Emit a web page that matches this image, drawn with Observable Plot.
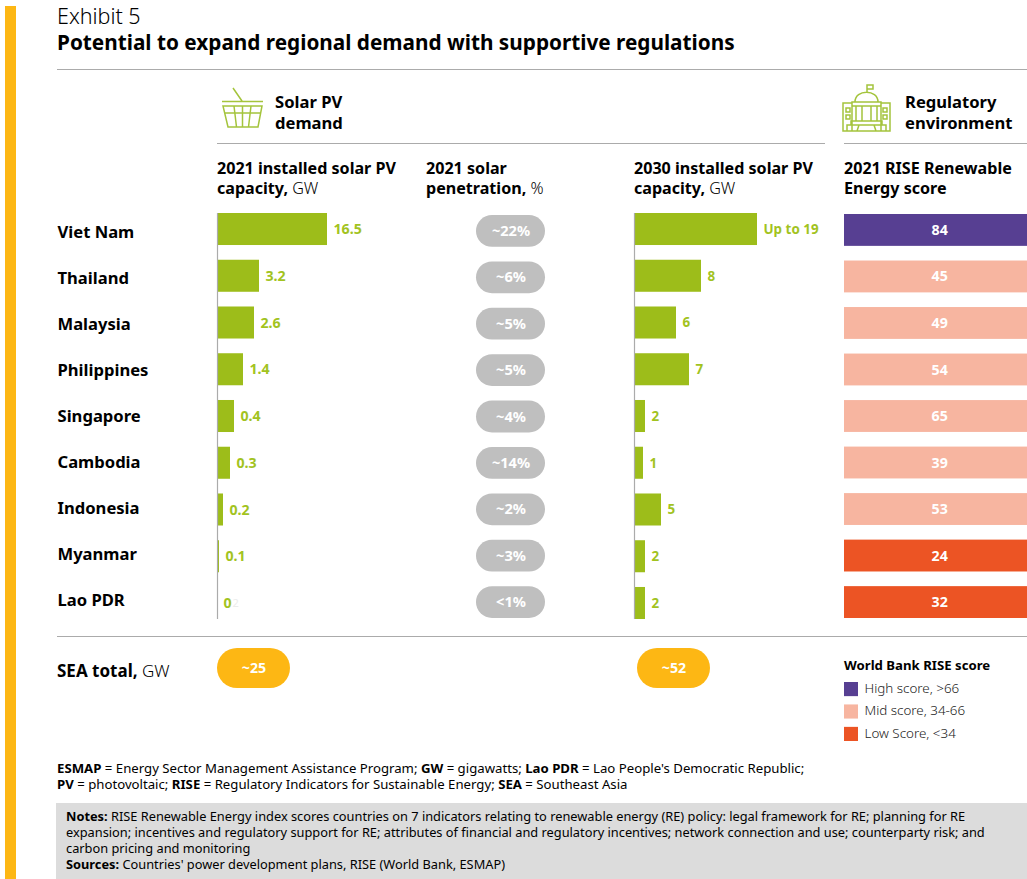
<!DOCTYPE html>
<html><head><meta charset="utf-8">
<script src="https://cdn.jsdelivr.net/npm/d3@7"></script>
<script src="https://cdn.jsdelivr.net/npm/@observablehq/plot@0.6"></script>
<style>
html,body{margin:0;padding:0;background:#fff;}
body{width:1027px;height:879px;position:relative;overflow:hidden;font-family:"Noto Sans",sans-serif;color:#000;}
.t{position:absolute;white-space:nowrap;}
.r{position:absolute;background:#ababab;height:1px;}
.p{position:absolute;left:0;top:0;}
.p svg{overflow:visible;background:transparent;display:block;}
b{font-weight:700}
.hd{font-size:16.1px;line-height:20px;font-weight:700;}
.hd span{font-weight:300}
.cat{font-size:16.6px;line-height:21px;font-weight:700;}
.fn{font-size:13.2px;line-height:16px;}
.fn2{font-size:12.8px;line-height:16px;}
#notes{position:absolute;left:56px;top:803px;width:971px;height:76px;background:#dcdcdc;}
</style></head>
<body>
<div class="t" style="left:5px;top:6px;width:11px;height:873px;background:#fdb714"></div>
<div class="t" style="left:57px;top:5px;font-size:21.5px;line-height:22px;font-weight:300;">Exhibit 5</div>
<div class="t" style="left:57px;top:29px;font-size:20.75px;line-height:26px;font-weight:700;">Potential to expand regional demand with supportive regulations</div>
<div class="r" style="left:57px;top:69px;width:970px"></div>
<div class="r" style="left:217px;top:143px;width:608px"></div>
<div class="r" style="left:844px;top:143px;width:183px"></div>
<div class="r" style="left:57px;top:636px;width:970px"></div>

<svg class="t" style="left:220px;top:86px" width="46" height="44" fill="none" stroke="#a4c43c" stroke-width="1.5">
  <path d="M13 2L22 15M2 15.5H43M3 20H42L38 41H8ZM5 27H40M14 20L16.5 41M22.5 20V41M31 20L28.5 41"/>
</svg>
<svg class="t" style="left:842px;top:83px" width="50" height="50" fill="none" stroke="#a4c43c" stroke-width="1.5">
  <path d="M25 9V2H31V6H25M13 19C13 6 36 6 36 19M10 19H39V23H10ZM1 20H10V48H1ZM39 20H48V48H39ZM14 23V38M20 23V38M29 23V38M35 23V38M9 38H40V42H9ZM5 48V42H44V48M15 48L17 42M34 48L32 42M4 25H8V29H4ZM4 32H8V36H4ZM41 25H45V29H41ZM41 32H45V36H41ZM1 48H48"/>
</svg>

<div class="t cat" style="left:275px;top:91px">Solar PV<br>demand</div>
<div class="t cat" style="left:905px;top:91px">Regulatory<br>environment</div>
<div class="t hd" style="left:217px;top:158px">2021 installed solar PV<br>capacity, <span>GW</span></div>
<div class="t hd" style="left:426px;top:158px">2021 solar<br>penetration, <span>%</span></div>
<div class="t hd" style="left:634px;top:158px">2030 installed solar PV<br>capacity, <span>GW</span></div>
<div class="t hd" style="left:844px;top:158px">2021 RISE Renewable<br>Energy score</div>
<div class="t" style="left:57px;top:659px;font-size:17px;line-height:24px;font-weight:700;">SEA total, <span style="font-weight:300">GW</span></div>
<div class="t" style="left:844px;top:656px;font-size:13.2px;line-height:18px;font-weight:700;">World Bank RISE score</div>

<div class="t fn" style="left:57px;top:760px"><b>ESMAP</b> = Energy Sector Management Assistance Program; <b>GW</b> = gigawatts; <b>Lao PDR</b> = Lao People's Democratic Republic;<br><b>PV</b> = photovoltaic; <b>RISE</b> = Regulatory Indicators for Sustainable Energy; <b>SEA</b> = Southeast Asia</div>
<div id="notes"></div>
<div class="t fn2" style="left:66px;top:808px"><b>Notes:</b> RISE Renewable Energy index scores countries on 7 indicators relating to renewable energy (RE) policy: legal framework for RE; planning for RE<br>expansion; incentives and regulatory support for RE; attributes of financial and regulatory incentives; network connection and use; counterparty risk; and<br>carbon pricing and monitoring<br><b>Sources:</b> Countries' power development plans, RISE (World Bank, ESMAP)</div>

<script>
const countries = ["Viet Nam","Thailand","Malaysia","Philippines","Singapore","Cambodia","Indonesia","Myanmar","Lao PDR"];
const installed2021 = [16.5,3.2,2.6,1.4,0.4,0.3,0.2,0.1,0];
const installed2021Labels = ["16.5","3.2","2.6","1.4","0.4","0.3","0.2","0.1","0"];
const penetrationLabels = ["~22%","~6%","~5%","~5%","~4%","~14%","~2%","~3%","<1%"];
const capacity2030 = [19,8,6,7,2,1,5,2,2];
const capacity2030Labels = ["Up to 19","8","6","7","2","1","5","2","2"];
const riseScores = [84,45,49,54,65,39,53,24,32];
const seaTotals = ["~25","~52"];
const riseBands = ["High score, >66","Mid score, 34-66","Low Score, <34"];
const riseColors = ["#573f92","#f7b5a0","#ec5424"];

const FONT = '"Noto Sans",sans-serif';
const GREEN = "#9dbd1a", LABEL = "#a2c31f", GOLD = "#fdb714", PILL = "#bfbfbf";
const band = s => s > 66 ? riseBands[0] : s >= 34 ? riseBands[1] : riseBands[2];

function place(plot, left, top) {
  const w = document.createElement("div");
  w.className = "p";
  w.style.left = left + "px";
  w.style.top = top + "px";
  w.appendChild(plot);
  document.body.appendChild(w);
}
const base = (width, height) => ({width, height, margin:0, style:{fontFamily:FONT, background:"transparent", overflow:"visible"}});
const rows = (a, b) => ({domain:countries, range:[a,b], paddingInner:0.315, paddingOuter:0, round:false, axis:null});
// The source draws its bars on a non-proportional length scale: these are the drawn lengths.
const drawn2021 = d3.scaleLinear().domain([0,0.1,0.2,0.3,0.4,1.4,2.6,3.2,16.5]).range([0,2,6,13,17,26,37,42,110]);
const drawn2030 = d3.scaleLinear().domain([0,1,2,5,6,7,8,19]).range([0,9,11,27,42,55,67,123]);

// Country names
place(Plot.plot({...base(155,420),
  y:{type:"point", domain:countries, range:[12,380], padding:0, round:false, axis:null},
  marks:[Plot.text(countries,{y:d=>d, text:d=>d, frameAnchor:"left", fontSize:16.6, fontWeight:700, fill:"#000"})]
}),57,220);

// 2021 installed capacity
const t2021 = countries.map((c,i)=>({c, v:drawn2021(installed2021[i]), l:installed2021Labels[i]}));
place(Plot.plot({...base(200,430),
  x:{domain:[0,200], range:[0,200], axis:null},
  y:rows(13,419),
  marks:[
    Plot.barX(t2021,{x:"v", y:"c", fill:GREEN}),
    Plot.ruleX([0],{stroke:"#ababab", strokeWidth:1.2, insetTop:13, insetBottom:11}),
    Plot.text(t2021,{x:"v", y:"c", text:"l", dx:6, textAnchor:"start", fill:LABEL, fontSize:14.2, fontWeight:700}),
    Plot.text(["2"],{x:()=>0, y:()=>"Lao PDR", text:d=>d, dx:15, textAnchor:"start", fill:"#ececec", fontSize:11})
  ]
}),217,200);

// 2021 penetration pills
place(Plot.plot({...base(69,430),
  x:{domain:[0,1], range:[0,69], axis:null},
  y:rows(15,418),
  marks:[
    Plot.rect(countries,{x1:()=>0, x2:()=>1, y:d=>d, rx:16, fill:PILL}),
    Plot.text(countries,{x:()=>0.5, y:d=>d, text:(d,i)=>penetrationLabels[i], fill:"#fff", fontSize:14.6, fontWeight:700})
  ]
}),476,200);

// 2030 capacity
const t2030 = countries.map((c,i)=>({c, v:drawn2030(capacity2030[i]), l:capacity2030Labels[i]}));
place(Plot.plot({...base(190,430),
  x:{domain:[0,190], range:[0,190], axis:null},
  y:rows(13,419),
  marks:[
    Plot.barX(t2030,{x:"v", y:"c", fill:GREEN}),
    Plot.ruleX([0],{stroke:"#ababab", strokeWidth:1.2, insetTop:13, insetBottom:11}),
    Plot.text(t2030,{x:"v", y:"c", text:"l", dx:6, textAnchor:"start", fill:LABEL, fontSize:13.4, fontWeight:700})
  ]
}),634,200);

// RISE score
const tRise = countries.map((c,i)=>({c, s:riseScores[i], b:band(riseScores[i])}));
place(Plot.plot({...base(183,430),
  x:{domain:[0,1], range:[0,183], axis:null},
  y:rows(14,418),
  color:{domain:riseBands, range:riseColors},
  marks:[
    Plot.rect(tRise,{x1:()=>0, x2:()=>1, y:"c", fill:"b"}),
    Plot.text(tRise,{x:()=>0.52, y:"c", text:"s", fill:"#fff", fontSize:14.2, fontWeight:700})
  ]
}),844,200);

// SEA total pills
seaTotals.forEach((v,i)=>{
  place(Plot.plot({...base(73,40),
    x:{domain:[0,1], range:[0,73], axis:null},
    y:{domain:[0,1], range:[40,0], axis:null},
    marks:[
      Plot.rect([v],{x1:()=>0, x2:()=>1, y1:()=>0, y2:()=>1, rx:20, fill:GOLD}),
      Plot.text([v],{x:()=>0.5, y:()=>0.5, text:d=>d, fill:"#fff", fontSize:14.2, fontWeight:700})
    ]
  }), [217,637][i], 648);
});

// Legend
place(Plot.plot({...base(183,70),
  x:{domain:[0,1], range:[0,14], axis:null},
  y:{domain:riseBands, range:[0,59], paddingInner:0.37, paddingOuter:0, round:false, axis:null},
  color:{domain:riseBands, range:riseColors},
  marks:[
    Plot.rect(riseBands,{x1:()=>0, x2:()=>1, y:d=>d, fill:d=>d}),
    Plot.text(riseBands,{x:()=>1, dx:6, y:d=>d, text:d=>d, dy:-1, textAnchor:"start", fill:"#222", fontSize:13.4, fontWeight:300})
  ]
}),844,682);
</script>
</body></html>
